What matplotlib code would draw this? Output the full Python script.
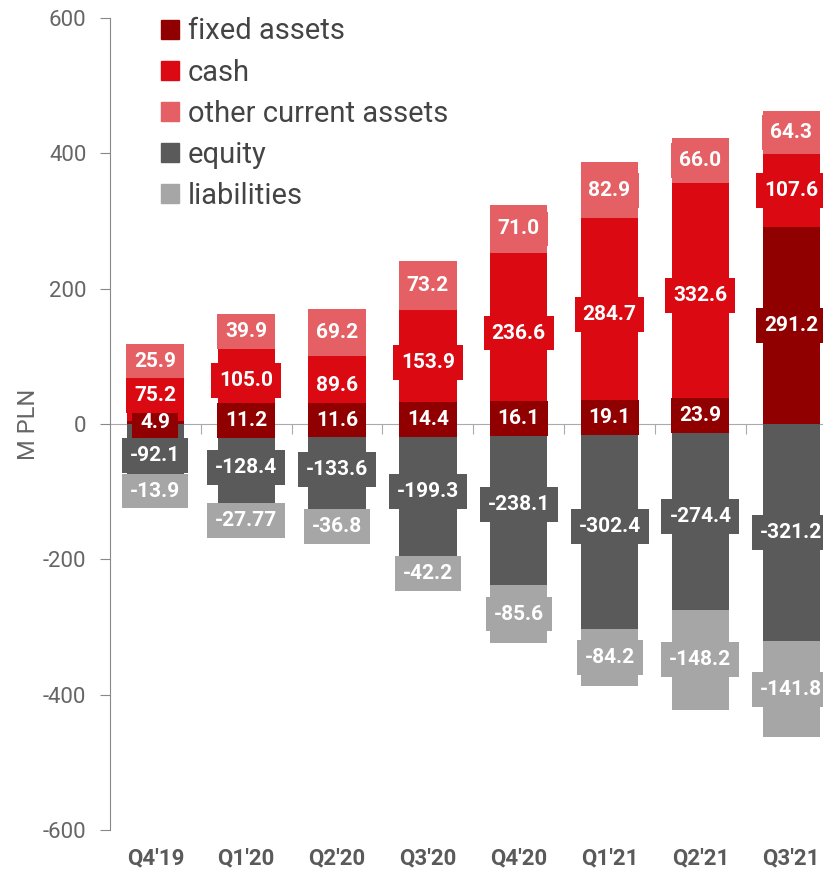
import matplotlib
matplotlib.use("Agg")
import matplotlib.pyplot as plt
import matplotlib.transforms as mtransforms
from matplotlib.patches import Patch
import numpy as np

quarters = ["Q4'19", "Q1'20", "Q2'20", "Q3'20", "Q4'20", "Q1'21", "Q2'21", "Q3'21"]
fixed_assets = [4.9, 11.2, 11.6, 14.4, 16.1, 19.1, 23.9, 291.2]
cash = [75.2, 105.0, 89.6, 153.9, 236.6, 284.7, 332.6, 107.6]
other_current = [25.9, 39.9, 69.2, 73.2, 71.0, 82.9, 66.0, 64.3]
equity = [-92.1, -128.4, -133.6, -199.3, -238.1, -302.4, -274.4, -321.2]
liabilities = [-13.9, -27.77, -36.8, -42.2, -85.6, -84.2, -148.2, -141.8]
yticks = [-600, -400, -200, 0, 200, 400, 600]

C_FIXED = "#900000"
C_CASH = "#DA0912"
C_OTHER = "#E46064"
C_EQ = "#5A5A5A"
C_LIAB = "#A6A6A6"
TXT = "#5A5A5A"

plt.rcParams['font.family'] = ['Roboto', 'DejaVu Sans']

fig = plt.figure(figsize=(8.23, 8.72), dpi=100)
ax = fig.add_axes([110/823, 42/872, 713/823, 812/872])

x = np.arange(len(quarters))
w = 0.63

def fmt(v):
    return f"{v:.1f}" if round(v, 1) == v else f"{v:.2f}"

pos_series = [(fixed_assets, C_FIXED, "fixed assets"),
              (cash, C_CASH, "cash"),
              (other_current, C_OTHER, "other current assets")]
neg_series = [(equity, C_EQ, "equity"), (liabilities, C_LIAB, "liabilities")]

handles = []
for group in (pos_series, neg_series):
    base = np.zeros(len(quarters))
    for vals, col, name in group:
        vals = np.array(vals)
        ax.bar(x, vals, w, bottom=base, color=col, zorder=2)
        for xi, b, v in zip(x, base, vals):
            ax.text(xi, b + v / 2, fmt(v), ha="center", va="center",
                    color="white", fontsize=15, fontweight="bold", zorder=5,
                    bbox=dict(boxstyle="square,pad=0.38", fc=col, ec="none"))
        base = base + vals
        handles.append(Patch(color=col, label=name))

ax.set_xlim(-0.5, 7.35)
ax.set_ylim(-600, 600)
ax.set_yticks(yticks)
ax.set_yticklabels([str(t) for t in yticks], fontsize=16, color="#666666")
ax.tick_params(axis="y", length=7, color="#888888", pad=10)
for s in ["top", "right"]:
    ax.spines[s].set_visible(False)
ax.spines["left"].set_color("#888888")
ax.spines["bottom"].set_position(("data", 0))
ax.spines["bottom"].set_color("#AAAAAA")
ax.spines["bottom"].set_zorder(1)
ax.set_xticks(x[:-1] + 0.5)
ax.set_xticklabels([])
ax.tick_params(axis="x", length=7, color="#AAAAAA", direction="out")

trans = mtransforms.blended_transform_factory(ax.transData, ax.transAxes)
for xi, q in zip(x, quarters):
    ax.text(xi, -0.035, q, transform=trans, ha="center", va="center",
            fontsize=16, fontweight="bold", color=TXT)

ax.set_ylabel("M PLN", fontsize=17, color="#666666", labelpad=2)

leg = ax.legend(handles=handles, loc="upper left", bbox_to_anchor=(0.055, 1.015),
                frameon=False, fontsize=21, handlelength=0.62, handleheight=0.62,
                handletextpad=0.3, labelspacing=0.45, borderaxespad=0)
for t in leg.get_texts():
    t.set_color("#444444")

fig.savefig("out.png", dpi=100)
